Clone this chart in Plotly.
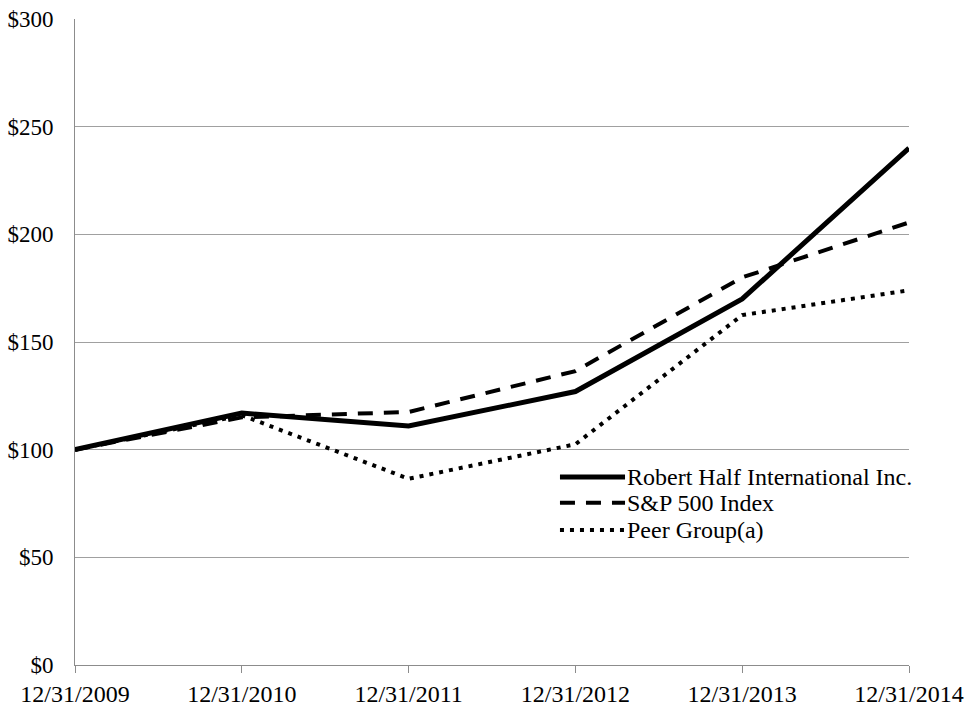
import plotly.graph_objects as go

dates = ["12/31/2009", "12/31/2010", "12/31/2011", "12/31/2012", "12/31/2013", "12/31/2014"]
robert_half = [100, 117, 111, 127, 170, 240]
sp500 = [100, 115, 117.5, 136.5, 180, 205.5]
peer_group = [100, 116, 86.5, 102.5, 162.5, 174]
series_names = ["Robert Half International Inc.", "S&P 500 Index", "Peer Group(a)"]
y_ticks = [0, 50, 100, 150, 200, 250, 300]
y_labels = ["$" + str(v) for v in y_ticks]

styles = [dict(color="black", width=5),
          dict(color="black", width=4, dash="15px,11px"),
          dict(color="black", width=4, dash="4px,6px")]

font = "Liberation Serif, Times New Roman, serif"
fig = go.Figure()
for name, vals, st in zip(series_names, [robert_half, sp500, peer_group], styles):
    fig.add_trace(go.Scatter(x=dates, y=vals, mode="lines", name=name, line=st, showlegend=False,
                             hoverinfo="skip"))

# custom legend (paper coordinates)
leg_y = [0.291, 0.251, 0.209]
for name, st, yy in zip(series_names, styles, leg_y):
    fig.add_shape(type="line", xref="paper", yref="paper", x0=0.5815, x1=0.6595, y0=yy, y1=yy,
                  line=st)
    fig.add_annotation(xref="paper", yref="paper", x=0.6595, y=yy, text=name, showarrow=False,
                       xanchor="left", yanchor="middle",
                       font=dict(family=font, size=24, color="black"))

fig.update_layout(
    width=974, height=712,
    margin=dict(l=75, r=65, t=19, b=47),
    paper_bgcolor="white", plot_bgcolor="white",
    font=dict(family=font, size=23, color="black"),
    showlegend=False,
    xaxis=dict(type="category", range=[0, 5], showgrid=False, showline=True, linecolor="#8c8c8c",
               linewidth=1, ticks="outside", ticklen=7, tickcolor="#8c8c8c", zeroline=False,
               automargin=False, tickfont=dict(family=font, size=24, color="black")),
    yaxis=dict(range=[0, 300], tickvals=y_ticks, ticktext=y_labels, showgrid=True, gridcolor="#a0a0a0",
               gridwidth=1, showline=True, linecolor="#8c8c8c", linewidth=1, ticks="", zeroline=False,
               automargin=False, ticklabelstandoff=16,
               tickfont=dict(family=font, size=23, color="black")),
)
fig.write_html("out.html", config={"displayModeBar": False},
               post_script="document.body.style.margin='0';")
